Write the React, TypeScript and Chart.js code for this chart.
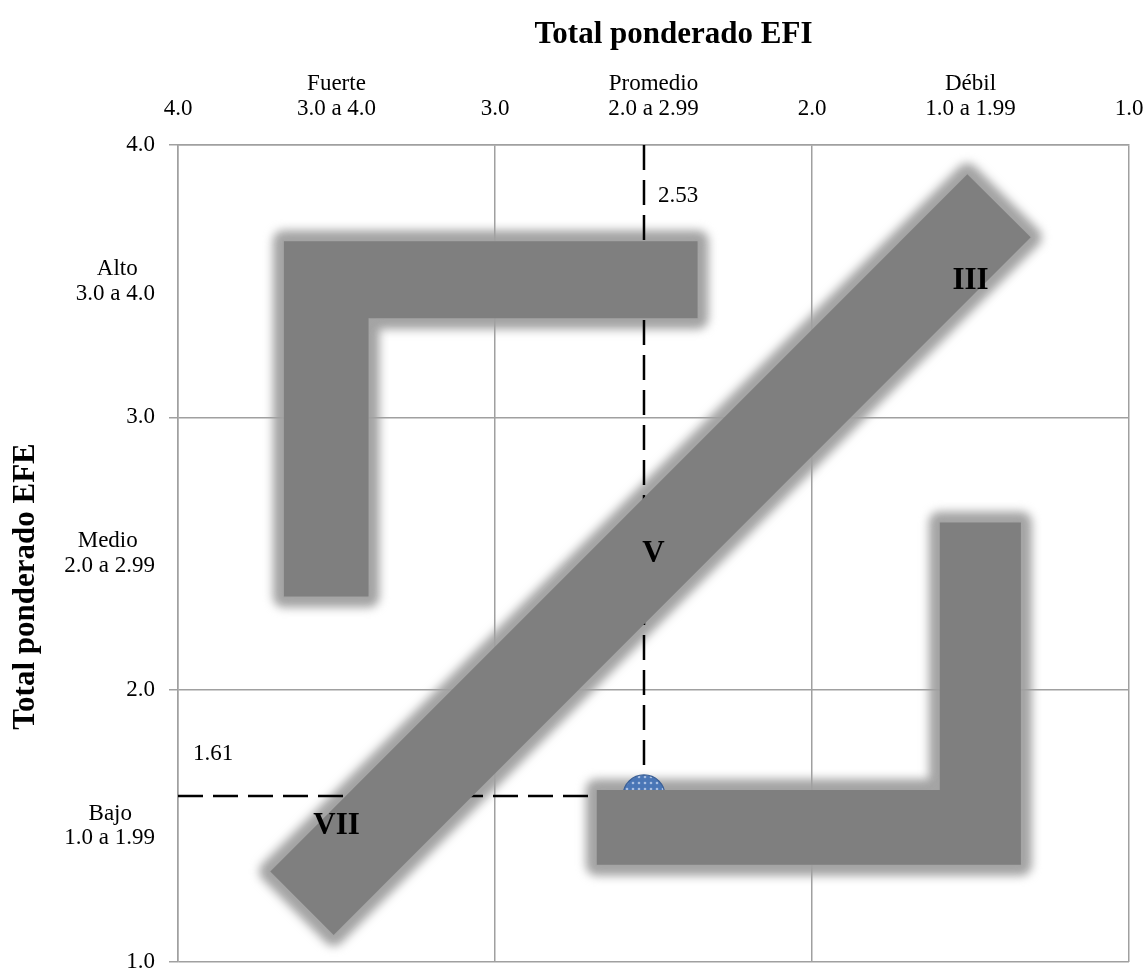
import React, { useEffect, useRef } from 'react';
import { Chart, registerables } from 'chart.js';

Chart.register(...registerables);

// Breakpoints used on both axes: integer scores plus the middle of each band
const scoreTicks = [1, 1.5, 2, 2.5, 3, 3.5, 4];

// EFI (internal factors) bands, weakest to strongest
const efiLevels = ['Débil', 'Promedio', 'Fuerte'];
const efiRanges = ['1.0 a 1.99', '2.0 a 2.99', '3.0 a 4.0'];

// EFE (external factors) bands, lowest to highest
const efeLevels = ['Bajo', 'Medio', 'Alto'];
const efeRanges = ['1.0 a 1.99', '2.0 a 2.99', '3.0 a 4.0'];

// Weighted totals of the company
const efiTotal = 2.53;
const efeTotal = 1.61;

// Strategy zones as polygons in score units [EFI, EFE]
const growZone: [number, number][] = [
  [3.666, 3.647], [2.361, 3.647], [2.361, 3.364],
  [3.399, 3.364], [3.399, 2.342], [3.666, 2.342],
];
const holdZone: [number, number][] = [
  [3.709, 1.332], [1.51, 3.893], [1.31, 3.661], [3.509, 1.099],
];
const divestZone: [number, number][] = [
  [2.679, 1.632], [1.597, 1.632], [1.597, 2.614],
  [1.341, 2.614], [1.341, 1.357], [2.679, 1.357],
];
const zones = [growZone, holdZone, divestZone];

// Cell numerals placed at cell centres
const cellNames = ['III', 'V', 'VII'];
const cellEfi = [1.5, 2.5, 3.5];
const cellEfe = [3.5, 2.5, 1.5];

const SERIF = '"Liberation Serif", "Times New Roman", serif';
const tickFont = { family: SERIF, size: 23, lineHeight: 1.07 };
const GRID = '#a0a0a0';

const toPoints = (pts: [number, number][]) =>
  [...pts, pts[0]].map(([x, y]) => ({ x, y }));

const bandIndex = (v: number) => Math.round(v - 1.5);

// Soft grey halo behind each zone, painted before the grid
const haloPlugin = {
  id: 'zoneHalo',
  beforeDraw(chart: any) {
    const { ctx } = chart;
    const xs = chart.scales.x;
    const ys = chart.scales.y;
    ctx.save();
    ctx.filter = 'blur(5px)';
    ctx.fillStyle = '#a4a4a4';
    ctx.strokeStyle = '#a4a4a4';
    ctx.lineWidth = 22;
    ctx.lineJoin = 'round';
    for (const zone of zones) {
      ctx.beginPath();
      zone.forEach(([a, b], i) => {
        const px = xs.getPixelForValue(a);
        const py = ys.getPixelForValue(b);
        if (i === 0) ctx.moveTo(px, py);
        else ctx.lineTo(px, py);
      });
      ctx.closePath();
      ctx.fill();
      ctx.stroke();
    }
    ctx.restore();
  },
};

// Cell numerals, value labels and axis titles
const textPlugin = {
  id: 'matrixText',
  afterDatasetsDraw(chart: any) {
    const { ctx, chartArea } = chart;
    const xs = chart.scales.x;
    const ys = chart.scales.y;
    ctx.save();
    ctx.fillStyle = '#000';

    ctx.font = `bold 31px ${SERIF}`;
    ctx.textAlign = 'center';
    ctx.textBaseline = 'middle';
    cellNames.forEach((name, i) => {
      ctx.fillText(name, xs.getPixelForValue(cellEfi[i]), ys.getPixelForValue(cellEfe[i]));
    });

    ctx.font = `23px ${SERIF}`;
    ctx.textAlign = 'left';
    ctx.textBaseline = 'alphabetic';
    ctx.fillText(efiTotal.toFixed(2), xs.getPixelForValue(efiTotal) + 14, chartArea.top + 57);
    ctx.fillText(efeTotal.toFixed(2), chartArea.left + 15, ys.getPixelForValue(efeTotal) - 36);

    ctx.font = `bold 31px ${SERIF}`;
    ctx.textAlign = 'center';
    ctx.fillText('Total ponderado EFI', (chartArea.left + chartArea.right) / 2 + 20, chartArea.top - 102);

    ctx.translate(34, (chartArea.top + chartArea.bottom) / 2 + 33);
    ctx.rotate(-Math.PI / 2);
    ctx.fillText('Total ponderado EFE', 0, 0);
    ctx.restore();
  },
};

export default function App() {
  const ref = useRef<HTMLCanvasElement>(null);

  useEffect(() => {
    const canvas = ref.current;
    if (!canvas) return;

    // Keeps the shorter line of a two-line label centred over the longer one
    const measure = document.createElement('canvas').getContext('2d')!;
    measure.font = `${tickFont.size}px ${SERIF}`;
    const centred = (short: string, long: string) => {
      const diff = measure.measureText(long).width - measure.measureText(short).width;
      const space = measure.measureText(' ').width;
      return short + ' '.repeat(Math.max(0, Math.round(diff / 2 / space)));
    };

    // Dotted blue fill for the company marker
    const tile = document.createElement('canvas');
    tile.width = 6;
    tile.height = 6;
    const tctx = tile.getContext('2d')!;
    tctx.fillStyle = '#4a76b6';
    tctx.fillRect(0, 0, 6, 6);
    tctx.fillStyle = '#a9bfe2';
    tctx.beginPath();
    tctx.arc(3, 3, 1.3, 0, Math.PI * 2);
    tctx.fill();
    const dots = tctx.createPattern(tile, 'repeat');

    const gridColor = (c: any) =>
      c.tick && Number.isInteger(c.tick.value) ? GRID : 'rgba(0,0,0,0)';

    const zoneDataset = (pts: [number, number][]) => ({
      data: toPoints(pts),
      fill: 'shape',
      backgroundColor: '#7f7f7f',
      borderWidth: 0,
      pointRadius: 0,
      tension: 0,
      order: 0,
    });

    const chart = new Chart(canvas, {
      type: 'line',
      data: {
        datasets: [
          zoneDataset(growZone),
          zoneDataset(holdZone),
          zoneDataset(divestZone),
          {
            data: [{ x: efiTotal, y: efeTotal }],
            showLine: false,
            pointRadius: 21,
            pointBackgroundColor: dots,
            pointBorderColor: '#3a5f96',
            pointBorderWidth: 1.2,
            order: 1,
          },
          {
            data: [{ x: efiTotal, y: 4 }, { x: efiTotal, y: efeTotal }],
            borderColor: '#000',
            borderWidth: 2.5,
            borderDash: [25, 10],
            pointRadius: 0,
            fill: false,
            order: 2,
          },
          {
            data: [{ x: 4, y: efeTotal }, { x: efiTotal, y: efeTotal }],
            borderColor: '#000',
            borderWidth: 2.5,
            borderDash: [25, 10],
            pointRadius: 0,
            fill: false,
            order: 2,
          },
        ] as any,
      },
      options: {
        responsive: false,
        animation: false,
        events: [],
        layout: { autoPadding: false, padding: { left: 0, top: 0, right: 19, bottom: 8 } },
        plugins: {
          legend: { display: false },
          tooltip: { enabled: false },
        },
        scales: {
          x: {
            type: 'linear',
            position: 'top',
            reverse: true,
            min: 1,
            max: 4,
            afterBuildTicks: (s: any) => {
              s.ticks = scoreTicks.map((value) => ({ value }));
            },
            afterFit: (s: any) => {
              s.height = 145;
              s.paddingLeft = 0;
              s.paddingRight = 0;
            },
            grid: { color: gridColor, lineWidth: 1.5, drawTicks: false },
            border: { color: GRID, width: 1.5 },
            ticks: {
              font: tickFont,
              color: '#000',
              padding: 24,
              maxRotation: 0,
              autoSkip: false,
              callback: (value: any) => {
                const v = Number(value);
                if (Number.isInteger(v)) return v.toFixed(1);
                const i = bandIndex(v);
                return [efiLevels[i], efiRanges[i]];
              },
            },
          },
          y: {
            type: 'linear',
            min: 1,
            max: 4,
            afterBuildTicks: (s: any) => {
              s.ticks = scoreTicks.map((value) => ({ value }));
            },
            afterFit: (s: any) => {
              s.width = 178;
              s.paddingTop = 0;
              s.paddingBottom = 0;
            },
            grid: {
              color: gridColor,
              tickColor: gridColor,
              lineWidth: 1.5,
              drawTicks: true,
              tickLength: 9,
            },
            border: { color: GRID, width: 1.5 },
            ticks: {
              font: tickFont,
              color: '#000',
              padding: 14,
              autoSkip: false,
              crossAlign: 'near',
              callback: (value: any) => {
                const v = Number(value);
                if (Number.isInteger(v)) return v.toFixed(1);
                const i = bandIndex(v);
                return [centred(efeLevels[i], efeRanges[i]), efeRanges[i]];
              },
            },
          },
        },
      } as any,
      plugins: [haloPlugin, textPlugin],
    });

    return () => chart.destroy();
  }, []);

  return (
    <div style={{ position: 'absolute', left: 0, top: 0, width: 1148, height: 970, background: '#fff' }}>
      <canvas ref={ref} width={1148} height={970} style={{ display: 'block' }} />
    </div>
  );
}
